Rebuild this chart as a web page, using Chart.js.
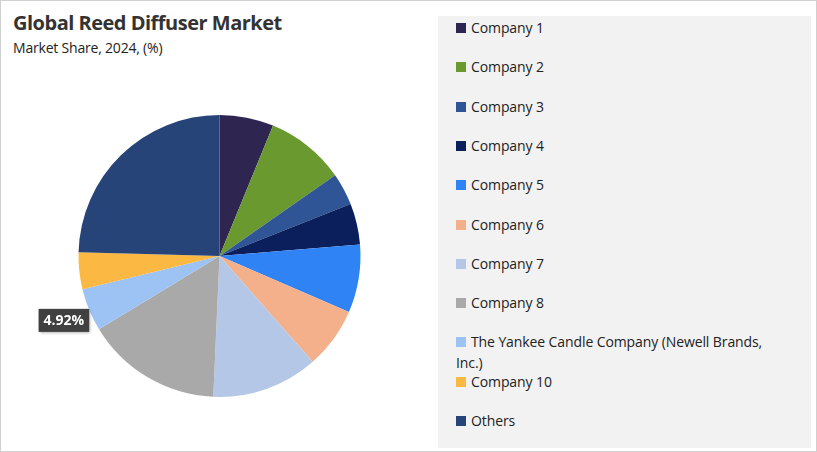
<!DOCTYPE html>
<html><head><meta charset="utf-8">
<script src="https://cdn.jsdelivr.net/npm/chart.js@4"></script>
<style>
body{margin:0;background:#fff;font-family:"Open Sans",sans-serif;}
#wrap{position:absolute;left:0;top:0;width:815px;height:450px;border:1px solid #d0d0d0;}
#t1{position:absolute;left:12px;top:8px;font-size:20px;font-weight:bold;color:#333;letter-spacing:-0.5px}
#t2{position:absolute;left:12px;top:37px;font-size:14px;color:#222;letter-spacing:-0.2px}
#cv{position:absolute;left:0;top:80px}
#leg{position:absolute;left:437px;top:15px;width:373px;height:432px;background:#f2f2f2}
.it{position:absolute;left:18px;width:320px;font-size:14px;color:#222;line-height:21px;letter-spacing:-0.1px}
.sw{display:inline-block;width:10px;height:10px;margin-right:5px;vertical-align:0px}
</style></head><body>
<div id="wrap">
<div id="t1">Global Reed Diffuser Market</div>
<div id="t2">Market Share, 2024, (%)</div>
<canvas id="cv" width="437" height="350"></canvas>
<div id="leg"></div>
</div>
<script>
const categories=["Company 1","Company 2","Company 3","Company 4","Company 5","Company 6","Company 7","Company 8","The Yankee Candle Company (Newell Brands, Inc.)","Company 10","Others"];
const shares=[6.2,9.1,3.7,4.7,7.8,7.0,12.2,15.6,4.92,4.2,24.58];
const colors=["#2e2550","#6a9a2f","#2f5597","#0a1f5c","#2f83f5","#f4b08a","#b4c7e7","#a9a9a9","#9dc3f5","#fbb943","#264478"];
const labelIndex=8;
const leg=document.getElementById('leg');
categories.forEach((c,i)=>{const d=document.createElement('div');d.className='it';d.style.top=(1+i*39.3)+'px';
d.innerHTML='<span class="sw" style="background:'+colors[i]+'"></span>'+c;leg.appendChild(d);});
const lbl={id:'lbl',afterDraw(ch){const a=ch.getDatasetMeta(0).data[labelIndex];const ctx=ch.ctx;
const m=(a.startAngle+a.endAngle)/2;const x=a.x+a.outerRadius*Math.cos(m),y=a.y+a.outerRadius*Math.sin(m);
const txt=shares[labelIndex].toFixed(2)+'%';ctx.save();ctx.font='bold 14px "Open Sans"';const w=ctx.measureText(txt).width+10;
const bx=x-w,by=y-1;ctx.shadowColor='rgba(0,0,0,0.4)';ctx.shadowBlur=3;ctx.shadowOffsetX=1;ctx.shadowOffsetY=1;
ctx.fillStyle='#404040';ctx.fillRect(bx,by,w,23);ctx.shadowColor='transparent';ctx.fillStyle='#fff';ctx.textBaseline='middle';
ctx.fillText(txt,bx+5,by+12);ctx.restore();}};
new Chart(document.getElementById('cv'),{type:'pie',data:{labels:categories,datasets:[{data:shares,backgroundColor:colors,borderWidth:0}]},
options:{responsive:false,animation:false,radius:141,layout:{padding:0},plugins:{legend:{display:false},tooltip:{enabled:false}}},plugins:[lbl]});
</script></body></html>
